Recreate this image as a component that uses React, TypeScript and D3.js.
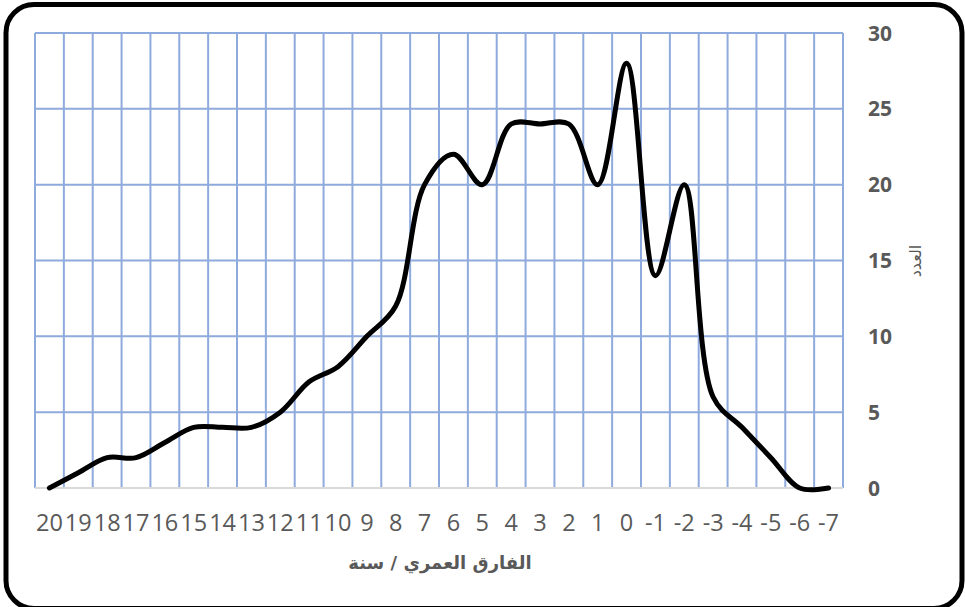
import React, { useEffect, useRef } from 'react';
import * as d3 from 'd3';

// age difference (years), shown left to right as in the source
const categories = [20, 19, 18, 17, 16, 15, 14, 13, 12, 11, 10, 9, 8, 7, 6, 5, 4, 3, 2, 1, 0, -1, -2, -3, -4, -5, -6, -7];
const counts = [0, 1, 2, 2, 3, 4, 4, 4, 5, 7, 8, 10, 12, 20, 22, 20, 24, 24, 24, 20, 28, 14, 20, 6, 4, 2, 0, 0];
const yTicks = [0, 5, 10, 15, 20, 25, 30];

const xTitle = 'الفارق العمري / سنة';
const yTitle = 'العدد';

const App = () => {
    const ref = useRef<SVGSVGElement>(null);

    useEffect(() => {
        const svg = d3.select(ref.current);
        svg.selectAll('*').remove();

        const plot = { left: 35, right: 843, top: 33, bottom: 488 };

        // outer frame (bottom edge runs off the picture)
        svg
            .append('rect')
            .attr('x', 6)
            .attr('y', 4.5)
            .attr('width', 956)
            .attr('height', 604)
            .attr('rx', 28)
            .attr('fill', '#fff')
            .attr('stroke', '#000')
            .attr('stroke-width', 5);

        const x = d3
            .scaleBand<number>()
            .domain(categories)
            .range([plot.left, plot.right]);
        const y = d3.scaleLinear().domain([0, 30]).range([plot.bottom, plot.top]);

        const grid = svg.append('g');
        const gridColor = '#8faadc';

        // vertical gridlines at category boundaries
        const bounds = categories.map((c) => x(c) as number).concat([plot.right]);
        grid
            .selectAll('line.v')
            .data(bounds)
            .enter()
            .append('line')
            .attr('x1', (d) => d)
            .attr('x2', (d) => d)
            .attr('y1', plot.top)
            .attr('y2', plot.bottom)
            .attr('stroke', gridColor)
            .attr('stroke-width', 2);

        // horizontal gridlines
        grid
            .selectAll('line.h')
            .data(yTicks.filter((t) => t > 0))
            .enter()
            .append('line')
            .attr('x1', plot.left)
            .attr('x2', plot.right)
            .attr('y1', (d) => y(d))
            .attr('y2', (d) => y(d))
            .attr('stroke', gridColor)
            .attr('stroke-width', 2);

        // category axis line
        svg
            .append('line')
            .attr('x1', plot.left)
            .attr('x2', plot.right)
            .attr('y1', y(0))
            .attr('y2', y(0))
            .attr('stroke', '#d9d9d9')
            .attr('stroke-width', 2);

        // y tick labels on the right
        svg
            .selectAll('text.yt')
            .data(yTicks)
            .enter()
            .append('text')
            .attr('x', 868)
            .attr('y', (d) => y(d))
            .attr('dy', '0.36em')
            .attr('font-family', 'Open Sans, sans-serif')
            .attr('font-weight', 'bold')
            .attr('font-size', 21)
            .attr('fill', '#595959')
            .text((d) => d);

        // x tick labels
        svg
            .selectAll('text.xt')
            .data(categories)
            .enter()
            .append('text')
            .attr('x', (d) => (x(d) as number) + x.bandwidth() / 2)
            .attr('y', 531)
            .attr('text-anchor', 'middle')
            .attr('font-family', 'Open Sans, sans-serif')
            .attr('font-size', 23.5)
            .attr('fill', '#595959')
            .text((d) => d);

        // axis titles
        svg
            .append('text')
            .attr('x', 440)
            .attr('y', 569)
            .attr('text-anchor', 'middle')
            .attr('direction', 'rtl')
            .attr('font-family', 'DejaVu Sans, sans-serif')
            .attr('font-weight', 'bold')
            .attr('font-size', 18)
            .attr('fill', '#595959')
            .text(xTitle);

        svg
            .append('text')
            .attr('transform', 'translate(921,261) rotate(-90)')
            .attr('text-anchor', 'middle')
            .attr('direction', 'rtl')
            .attr('font-family', 'DejaVu Sans, sans-serif')
            .attr('font-size', 16)
            .attr('fill', '#595959')
            .text(yTitle);

        // smoothed line
        const line = d3
            .line<number>()
            .x((d, i) => (x(categories[i]) as number) + x.bandwidth() / 2)
            .y((d) => y(d))
            .curve(d3.curveCatmullRom.alpha(0.5));

        svg
            .append('path')
            .datum(counts)
            .attr('d', line)
            .attr('fill', 'none')
            .attr('stroke', '#000')
            .attr('stroke-width', 5)
            .attr('stroke-linecap', 'round')
            .attr('stroke-linejoin', 'round');
    }, []);

    return (
        <div style={{ position: 'absolute', left: 0, top: 0 }}>
            <svg ref={ref} width={965} height={607} style={{ display: 'block' }}></svg>
        </div>
    );
};

export default App;
